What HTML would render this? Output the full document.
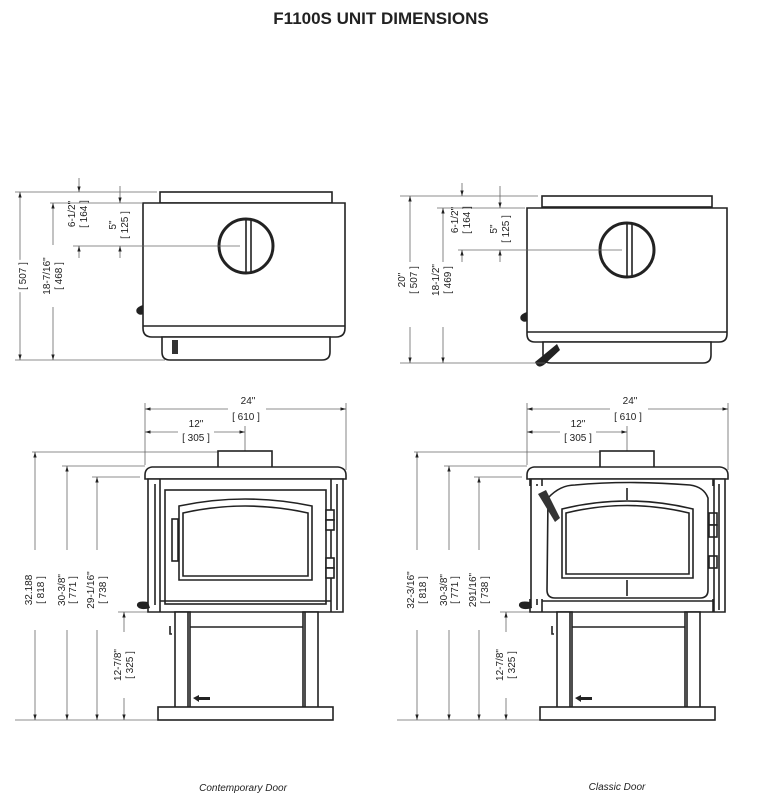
<!DOCTYPE html>
<html><head><meta charset="utf-8"><style>
html,body{margin:0;padding:0;background:#fff}
svg{display:block}
text{font-family:"Liberation Sans",sans-serif;fill:#222}
.s{fill:none;stroke:#222;stroke-width:1.6}
.w{fill:#fff;stroke:#222;stroke-width:1.6}
.d{fill:none;stroke:#666;stroke-width:0.8}
.t{font-size:10px}
</style></head><body>
<svg width="763" height="800" viewBox="0 0 763 800" xmlns="http://www.w3.org/2000/svg">
<defs>
<marker id="a" viewBox="0 0 10 10" refX="10" refY="5" markerWidth="7" markerHeight="7" orient="auto-start-reverse"><path d="M0,2 L10,5 L0,8z" fill="#222"/></marker>
</defs>
<text x="381" y="24" text-anchor="middle" style="font-size:17px;font-weight:bold">F1100S UNIT DIMENSIONS</text>

<!-- LEFT TOP VIEW -->
<g>
<rect class="w" x="160" y="192" width="172" height="11"/>
<path class="w" d="M143,203 H345 V328 Q345,337 336,337 H152 Q143,337 143,328Z"/>
<line class="s" x1="143" y1="326" x2="345" y2="326"/>
<path class="w" d="M162,337 H330 V352 Q330,360 322,360 H170 Q162,360 162,352Z"/>
<circle cx="246" cy="246" r="27" fill="#fff" stroke="#222" stroke-width="3"/>
<line class="s" x1="246" y1="219" x2="246" y2="273"/><line class="s" x1="251" y1="220" x2="251" y2="272"/>
<rect x="172" y="340" width="6" height="14" fill="#333"/>
<path d="M143,305 Q134,308 137,313 Q140,316 143,314Z" fill="#222"/>
</g>
<g class="d">
<line x1="15" y1="192" x2="157" y2="192"/><line x1="50" y1="203" x2="143" y2="203"/>
<line x1="73" y1="246" x2="240" y2="246"/><line x1="15" y1="360" x2="165" y2="360"/>
</g>
<g class="d" marker-start="url(#a)" marker-end="url(#a)">
<line x1="20" y1="192" x2="20" y2="360"/><line x1="53" y1="203" x2="53" y2="360"/>
</g>
<g class="d" marker-end="url(#a)">
<line x1="79" y1="178" x2="79" y2="192"/><line x1="79" y1="258" x2="79" y2="246"/>
<line x1="120" y1="186" x2="120" y2="203"/><line x1="120" y1="258" x2="120" y2="246"/>
</g>
<g class="t">
<text transform="translate(26,276) rotate(-90)" text-anchor="middle" fill="#fff" stroke="#fff" stroke-width="6">[ 507 ]</text>
<text transform="translate(26,276) rotate(-90)" text-anchor="middle">[ 507 ]</text>
<rect x="42" y="245" width="24" height="62" fill="#fff"/>
<text transform="translate(50,276) rotate(-90)" text-anchor="middle">18-7/16"</text>
<text transform="translate(62,276) rotate(-90)" text-anchor="middle">[ 468 ]</text>
<text transform="translate(75,214) rotate(-90)" text-anchor="middle">6-1/2"</text>
<text transform="translate(87,214) rotate(-90)" text-anchor="middle">[ 164 ]</text>
<text transform="translate(116,225) rotate(-90)" text-anchor="middle">5"</text>
<text transform="translate(128,225) rotate(-90)" text-anchor="middle">[ 125 ]</text>
</g>

<!-- RIGHT TOP VIEW -->
<g>
<rect class="w" x="542" y="196" width="170" height="11"/>
<path class="w" d="M527,208 H727 V334 Q727,342 719,342 H535 Q527,342 527,334Z"/>
<line class="s" x1="527" y1="332" x2="727" y2="332"/>
<path class="w" d="M543,342 H711 V355 Q711,363 703,363 H551 Q543,363 543,355Z"/>
<circle cx="627" cy="250" r="27" fill="#fff" stroke="#222" stroke-width="3"/>
<line class="s" x1="627" y1="223" x2="627" y2="277"/><line class="s" x1="632" y1="224" x2="632" y2="276"/>
<path d="M557,344 L535,362 Q538,370 545,364 L560,350Z" fill="#222"/>
<path d="M527,312 Q518,315 521,320 Q524,323 527,321Z" fill="#222"/>
</g>
<g class="d">
<line x1="400" y1="196" x2="538" y2="196"/><line x1="437" y1="208" x2="525" y2="208"/>
<line x1="458" y1="250" x2="622" y2="250"/><line x1="400" y1="363" x2="545" y2="363"/>
</g>
<g class="d" marker-start="url(#a)" marker-end="url(#a)">
<line x1="410" y1="196" x2="410" y2="363"/><line x1="443" y1="208" x2="443" y2="363"/>
</g>
<g class="d" marker-end="url(#a)">
<line x1="462" y1="183" x2="462" y2="196"/><line x1="462" y1="262" x2="462" y2="250"/>
<line x1="500" y1="186" x2="500" y2="208"/><line x1="500" y1="262" x2="500" y2="250"/>
</g>
<rect x="402" y="262" width="50" height="65" fill="#fff"/>
<g class="t">
<text transform="translate(405,280) rotate(-90)" text-anchor="middle">20"</text>
<text transform="translate(417,280) rotate(-90)" text-anchor="middle">[ 507 ]</text>
<text transform="translate(439,280) rotate(-90)" text-anchor="middle">18-1/2"</text>
<text transform="translate(451,280) rotate(-90)" text-anchor="middle">[ 469 ]</text>
<text transform="translate(458,220) rotate(-90)" text-anchor="middle">6-1/2"</text>
<text transform="translate(470,220) rotate(-90)" text-anchor="middle">[ 164 ]</text>
<text transform="translate(497,229) rotate(-90)" text-anchor="middle">5"</text>
<text transform="translate(509,229) rotate(-90)" text-anchor="middle">[ 125 ]</text>
</g>

<!-- FRONT VIEWS common -->
<g id="front">
<g class="d">
<line x1="145" y1="403" x2="145" y2="465"/><line x1="346" y1="403" x2="346" y2="470"/>
<line x1="245" y1="426" x2="245" y2="452"/>
<line x1="32" y1="452" x2="238" y2="452"/><line x1="62" y1="466" x2="145" y2="466"/>
<line x1="92" y1="477" x2="140" y2="477"/><line x1="118" y1="612" x2="152" y2="612"/>
<line x1="15" y1="720" x2="158" y2="720"/>
</g>
<g class="d" marker-start="url(#a)" marker-end="url(#a)">
<line x1="145" y1="409" x2="346" y2="409"/><line x1="145" y1="432" x2="245" y2="432"/>
<line x1="35" y1="452" x2="35" y2="720"/><line x1="67" y1="466" x2="67" y2="720"/>
<line x1="97" y1="477" x2="97" y2="720"/><line x1="124" y1="612" x2="124" y2="720"/>
</g>
<rect x="228" y="396" width="38" height="28" fill="#fff"/>
<rect x="178" y="419" width="36" height="26" fill="#fff"/>
<rect x="25" y="550" width="88" height="80" fill="#fff"/>
<rect x="112" y="632" width="24" height="66" fill="#fff"/>
<g class="t" text-anchor="middle">
<text x="248" y="404">24"</text><text x="246" y="420">[ 610 ]</text>
<text x="196" y="427">12"</text><text x="196" y="441">[ 305 ]</text>
<text transform="translate(133,665) rotate(-90)">[ 325 ]</text>
<text transform="translate(121,665) rotate(-90)">12-7/8"</text>
<text transform="translate(44,590) rotate(-90)">[ 818 ]</text>
<text transform="translate(76,590) rotate(-90)">[ 771 ]</text>
<text transform="translate(65,590) rotate(-90)">30-3/8"</text>
<text transform="translate(106,590) rotate(-90)">[ 738 ]</text>
</g>
<rect class="w" x="218" y="451" width="54" height="27"/>
<path class="w" d="M152,467 H218 M272,467 H338 Q346,468 346,475 V479 H145 V475 Q145,468 152,467Z"/>
<path class="w" d="M148,479 H343 V612 H148Z"/>
<line class="s" x1="160" y1="479" x2="160" y2="612"/><line class="s" x1="331" y1="479" x2="331" y2="612"/>
<line class="s" x1="155" y1="484" x2="155" y2="605"/><line class="s" x1="337" y1="484" x2="337" y2="610"/>
<line class="s" x1="160" y1="601" x2="331" y2="601"/>
<rect class="w" x="175" y="612" width="15" height="96"/>
<rect class="w" x="303" y="612" width="15" height="96"/>
<line class="s" x1="190" y1="627" x2="303" y2="627"/>
<line class="s" x1="188" y1="612" x2="188" y2="708"/><line class="s" x1="305" y1="612" x2="305" y2="708"/>
<rect class="w" x="158" y="707" width="175" height="13"/>
<path d="M193,698 L199,695 V697 H210 V700 H199 V702Z" fill="#222"/>
<path d="M148,602 Q136,600 137,606 Q140,611 150,608Z" fill="#222"/>
<path class="s" d="M170,626 V634 H172"/>
</g>
<text transform="translate(32,590) rotate(-90)" class="t" text-anchor="middle">32.188</text>
<text transform="translate(94,590) rotate(-90)" class="t" text-anchor="middle">29-1/16"</text>
<!-- contemporary door -->
<rect class="s" x="165" y="490" width="161" height="114" stroke-width="2"/>
<path class="s" stroke-width="2" d="M179,506 Q245,492 312,506 V580 H179Z"/>
<path class="s" d="M183,513 Q245,499 308,513 V576 H183Z"/>
<rect class="s" x="172" y="519" width="6" height="42"/>
<rect class="w" x="326" y="510" width="8" height="10"/><rect class="w" x="326" y="520" width="8" height="10"/>
<rect class="w" x="326" y="558" width="8" height="10"/><rect class="w" x="326" y="568" width="8" height="10"/>

<use href="#front" transform="translate(382,0)"/>
<rect x="405" y="550" width="30" height="80" fill="#fff"/>
<rect x="470" y="550" width="30" height="80" fill="#fff"/>
<g class="t" text-anchor="middle">
<text transform="translate(414,590) rotate(-90)">32-3/16"</text>
<text transform="translate(426,590) rotate(-90)">[ 818 ]</text>
<text transform="translate(476,590) rotate(-90)">291/16"</text>
<text transform="translate(488,590) rotate(-90)">[ 738 ]</text>
</g>
<!-- classic door -->
<rect x="528" y="486" width="190" height="113" fill="#fff"/>
<path class="s" stroke-width="2" d="M548,498 Q560,485 575,485 Q627,480 690,485 Q704,487 708,498 V590 Q708,598 700,598 H555 Q547,598 547,590Z"/>
<path class="s" d="M562,509 Q627,493 693,509 V578 H562Z"/>
<path class="s" d="M566,513 Q627,498 689,513 V574 H566Z"/>
<line class="s" x1="627" y1="488" x2="627" y2="500"/><line class="s" x1="627" y1="580" x2="627" y2="596"/>
<path d="M538,494 L546,490 L560,518 L555,522Z" fill="#333"/>
<rect class="w" x="709" y="513" width="8" height="12"/><rect class="w" x="709" y="525" width="8" height="12"/>
<rect class="w" x="709" y="556" width="8" height="12"/>
<line class="s" x1="531" y1="479" x2="531" y2="608"/><line class="s" x1="714" y1="479" x2="714" y2="612"/>

<text x="243" y="791" text-anchor="middle" style="font-size:10px;font-style:italic">Contemporary Door</text>
<text x="617" y="790" text-anchor="middle" style="font-size:10px;font-style:italic">Classic Door</text>
</svg>
</body></html>
